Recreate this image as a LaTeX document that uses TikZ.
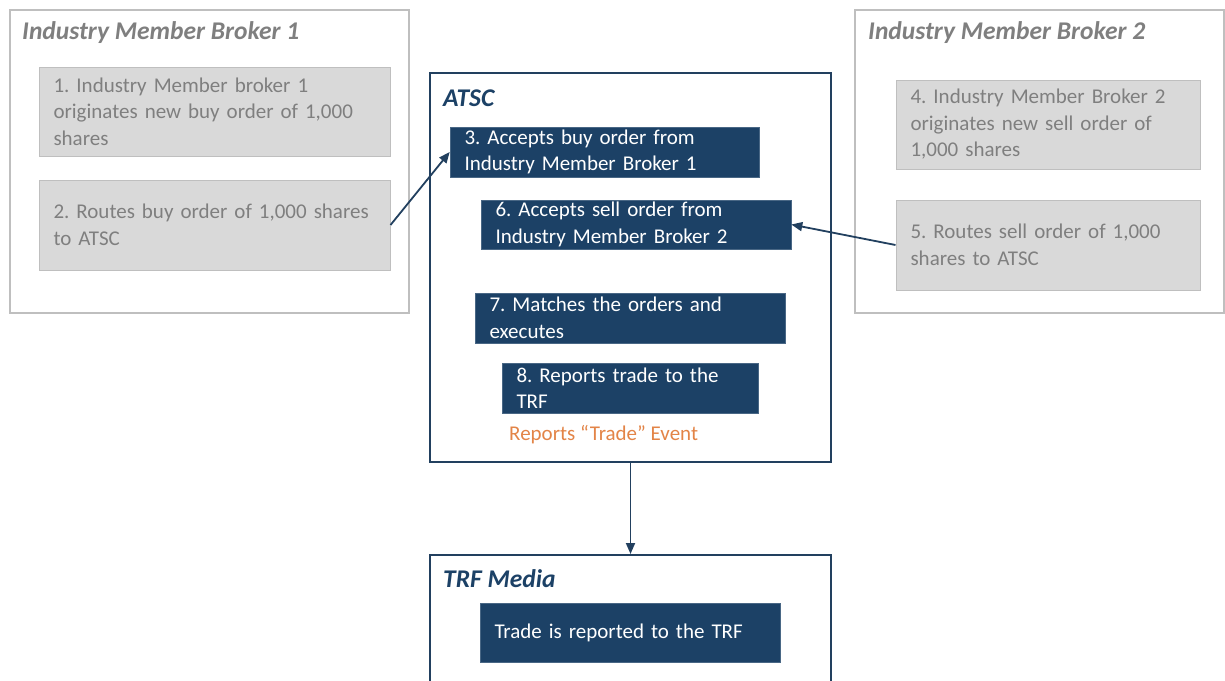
\documentclass[tikz,border=0pt]{standalone}
\usepackage{fontspec}
\setmainfont{Carlito}
\usepackage{tikz}
\usetikzlibrary{arrows.meta}
\frenchspacing

\definecolor{navy}{HTML}{1C4166}
\definecolor{navyline}{HTML}{22405F}
\definecolor{greytext}{HTML}{7F7F7F}
\definecolor{greyfill}{HTML}{D9D9D9}
\definecolor{greyline}{HTML}{BFBFBF}
\definecolor{tradeorange}{HTML}{E38447}

\begin{document}
\begin{tikzpicture}[x=1pt, y=-1pt,
    outerbox/.style={draw=greyline, line width=1.5pt, fill=white, inner sep=0pt},
    mainbox/.style={draw=navyline, line width=2pt, fill=white, inner sep=0pt},
    greybox/.style={draw=greyline, line width=1pt, fill=greyfill, text=greytext,
        inner xsep=14.5pt, inner ysep=0pt, align=left,
        font=\fontsize{21}{26.5}\selectfont},
    bluebox/.style={draw=navy!80, line width=0.6pt, fill=navy, text=white,
        inner xsep=14.5pt, inner ysep=0pt, align=left,
        font=\fontsize{21}{26.5}\selectfont},
    greytitle/.style={anchor=west, inner sep=0pt, text=greytext,
        font=\fontsize{25.5}{30}\selectfont\bfseries\itshape},
    bluetitle/.style={anchor=west, inner sep=0pt, text=navy,
        font=\fontsize{25.5}{30}\selectfont\bfseries\itshape},
    conn/.style={draw=navyline, line width=1.8pt, -{Triangle[length=11pt,width=9pt]}}]
    \useasboundingbox (0,0) rectangle (1225,680);
    \clip (0,0) rectangle (1225,680);

    % outer frames
    \node[outerbox, minimum width=399, minimum height=303] (broker1) at (209.5,161.5) {};
    \node[outerbox, minimum width=369, minimum height=303] (broker2) at (1039.5,161.5) {};
    \node[mainbox, minimum width=401, minimum height=389] (atsc) at (630.5,267.5) {};
    \node[mainbox, minimum width=401, minimum height=170] (trf) at (630.5,640) {};

    \node[greytitle] (title1) at (22,32.5) {Industry Member Broker 1};
    \node[greytitle] (title2) at (868,32.5) {Industry Member Broker 2};
    \node[bluetitle] (atsctitle) at (443,98) {ATSC};
    \node[bluetitle] (trftitle) at (443,579) {TRF Media};

    % broker 1
    \node[greybox, text width=322, minimum height=89] (box1) at (214.5,111.5)
        {1. Industry Member broker 1\\\mbox{originates new buy order of 1,000}\\shares};
    \node[greybox, text width=322, minimum height=90] (box2) at (214.5,225)
        {\mbox{2. Routes buy order of 1,000 shares}\\to ATSC};

    % broker 2
    \node[greybox, text width=275, minimum height=89] (box4) at (1048,124.5)
        {4. Industry Member Broker 2\\originates new sell order of\\1,000 shares};
    \node[greybox, text width=275, minimum height=90] (box5) at (1048,245)
        {5. Routes sell order of 1,000\\shares to ATSC};

    % ATSC steps
    \node[bluebox, text width=280, minimum height=50] (box3) at (604.5,152)
        {3. Accepts buy order from\\Industry Member Broker 1};
    \node[bluebox, text width=281, minimum height=49] (box6) at (636,224.5)
        {6. Accepts sell order from\\Industry Member Broker 2};
    \node[bluebox, text width=281, minimum height=50] (box7) at (630,318)
        {7. Matches the orders and\\executes};
    \node[bluebox, text width=227, minimum height=50] (box8) at (630,388)
        {8. Reports trade to the\\TRF};
    \node[anchor=west, inner sep=0pt, text=tradeorange,
        font=\fontsize{21}{26.5}\selectfont] (event) at (509,435)
        {Reports “Trade” Event};

    % TRF
    \node[bluebox, text width=271, minimum height=59] (trfbox) at (630,632.5)
        {Trade is reported to the TRF};

    \draw[conn] (box2.east) -- (box3.west);
    \draw[conn] (box5.west) -- (box6.east);
    \draw[conn] (atsc.south) -- (trf.north);
\end{tikzpicture}
\end{document}
